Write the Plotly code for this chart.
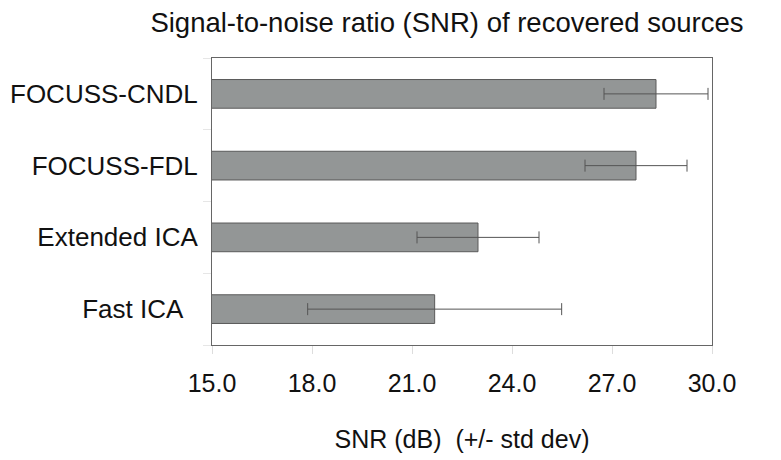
import plotly.graph_objects as go

methods = ["FOCUSS-CNDL", "FOCUSS-FDL", "Extended ICA", "Fast ICA"]
method_labels = ["FOCUSS-CNDL", "FOCUSS-FDL", "Extended ICA", "Fast ICA\u00a0\u00a0"]
snr_mean = [28.32, 27.72, 22.98, 21.68]
snr_std = [1.56, 1.53, 1.83, 3.81]
x_ticks = [15.0, 18.0, 21.0, 24.0, 27.0, 30.0]

FONT = "Liberation Sans, Arial, Helvetica, sans-serif"

fig = go.Figure(
    go.Bar(
        y=methods,
        x=snr_mean,
        base=0,
        orientation="h",
        width=0.4,
        marker=dict(color="#939696", line=dict(color="#5a5a5a", width=1)),
        error_x=dict(type="data", array=snr_std, visible=True,
                     color="#555555", thickness=1, width=6),
    )
)

fig.update_layout(
    width=781, height=460,
    paper_bgcolor="white", plot_bgcolor="white",
    margin=dict(l=204, r=77, t=50, b=123, autoexpand=False),
    showlegend=False,
    font=dict(family=FONT, color="#111111"),
    title=dict(text="Signal-to-noise ratio (SNR) of recovered sources",
               font=dict(size=27.5, family=FONT, color="#111111"),
               xref="container", x=0.562, xanchor="center",
               yref="container", y=0.969, yanchor="middle"),
)

fig.update_xaxes(
    range=[15, 30], tickvals=x_ticks, tickformat=".1f",
    tickfont=dict(size=25), ticks="outside", ticklen=8, tickcolor="#dddddd",
    ticklabelstandoff=8,
    showgrid=False, zeroline=False, automargin=False,
    showline=True, linecolor="#666666", linewidth=1, mirror=True,
    title=dict(text="SNR (dB)\u00a0\u00a0(+/- std dev)", font=dict(size=25), standoff=34),
)
fig.update_yaxes(
    autorange="reversed", tickfont=dict(size=26), automargin=False,
    tickmode="array", tickvals=methods, ticktext=method_labels,
    ticks="outside", ticklen=8, tickcolor="#e6e6e6", tickson="boundaries",
    ticklabelstandoff=8,
    showgrid=False, zeroline=False,
    showline=True, linecolor="#666666", linewidth=1, mirror=True,
)

fig.write_html("out.html")
